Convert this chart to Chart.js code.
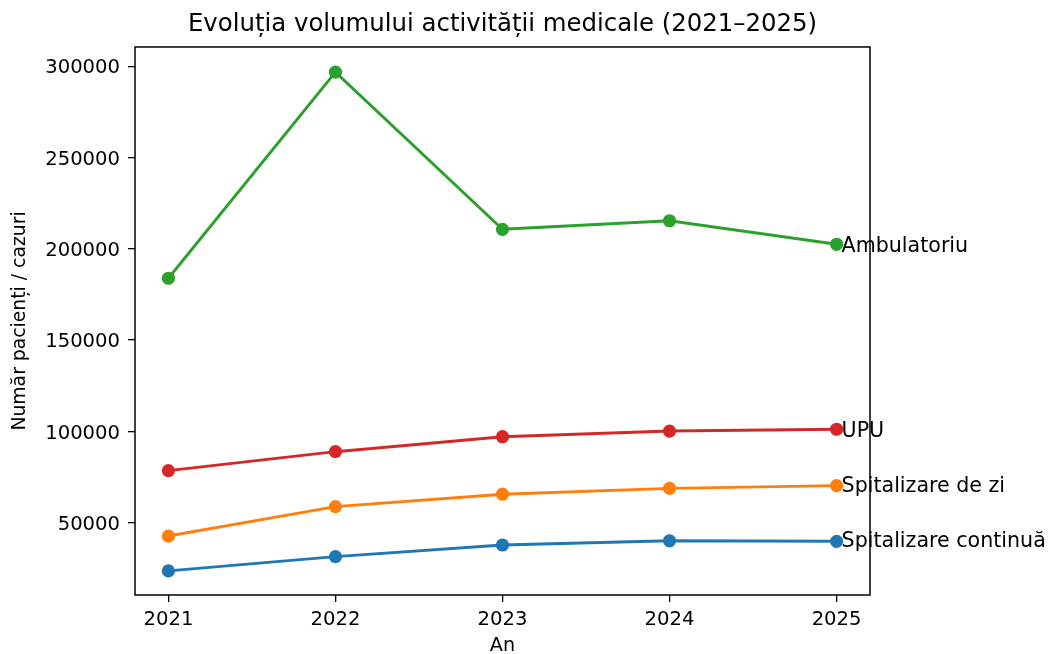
<!DOCTYPE html>
<html lang="ro">
<head>
<meta charset="utf-8">
<title>Evoluția volumului activității medicale</title>
<script src="https://cdn.jsdelivr.net/npm/chart.js@4/dist/chart.umd.min.js"></script>
<style>
  html, body { margin: 0; padding: 0; background: #fff; }
  #wrap { width: 1049px; height: 654px; }
</style>
</head>
<body>
<div id="wrap"><canvas id="grafic" width="1049" height="654"></canvas></div>
<script>
// date
const ani = [2021, 2022, 2023, 2024, 2025];
const spitalizareContinua = [23600, 31400, 37800, 40100, 39800];
const spitalizareZi = [42700, 58800, 65600, 68800, 70300];
const ambulatoriu = [183900, 296800, 210700, 215400, 202500];
const upu = [78500, 88900, 97100, 100200, 101200];
const ticksY = [50000, 100000, 150000, 200000, 250000, 300000];

// limite axe (ca in original)
const yMin = 10400, yMax = 310570;
const xMin = 2020.8, xMax = 2025.2;

const serii = [
  { nume: "Spitalizare continuă", date: spitalizareContinua, culoare: "#1f77b4" },
  { nume: "Spitalizare de zi", date: spitalizareZi, culoare: "#ff7f0e" },
  { nume: "Ambulatoriu", date: ambulatoriu, culoare: "#2ca02c" },
  { nume: "UPU", date: upu, culoare: "#d62728" },
];

const FONT = "'DejaVu Sans', sans-serif";

// cadru complet + etichete la capatul liniilor
const pluginCadru = {
  id: "cadru",
  afterDatasetsDraw(chart) {
    const { ctx, chartArea: a } = chart;
    ctx.save();
    ctx.strokeStyle = "#000";
    ctx.lineWidth = 1.5;
    ctx.strokeRect(a.left, a.top, a.right - a.left, a.bottom - a.top);
    ctx.restore();
  },
  afterDraw(chart) {
    const { ctx, scales } = chart;
    ctx.save();
    ctx.font = "20.6px " + FONT;
    ctx.fillStyle = "#000";
    ctx.textAlign = "left";
    ctx.textBaseline = "alphabetic";
    chart.data.datasets.forEach(ds => {
      const ultim = ds.data[ds.data.length - 1];
      const px = scales.x.getPixelForValue(ultim.x) + 5;
      const py = scales.y.getPixelForValue(ultim.y);
      const m = ctx.measureText(ds.label);
      const yb = py + (m.actualBoundingBoxAscent - m.actualBoundingBoxDescent) / 2;
      ctx.fillText(ds.label, px, yb);
    });
    ctx.restore();
  },
};

new Chart(document.getElementById("grafic"), {
  type: "line",
  data: {
    datasets: serii.map(s => ({
      label: s.nume,
      data: s.date.map((v, i) => ({ x: ani[i], y: v })),
      borderColor: s.culoare,
      backgroundColor: s.culoare,
      borderWidth: 2.9,
      pointRadius: 6.6,
      pointBorderWidth: 0,
      pointBackgroundColor: s.culoare,
      tension: 0,
      fill: false,
    })),
  },
  options: {
    responsive: false,
    animation: false,
    layout: { padding: { left: 0, right: 179, top: 0, bottom: 0 } },
    plugins: {
      legend: { display: false },
      tooltip: { enabled: false },
      title: {
        display: true,
        fullSize: false,
        text: "Evoluția volumului activității medicale (2021–2025)",
        color: "#000",
        font: { family: FONT, size: 24.4, weight: "normal", lineHeight: 1.2 },
        padding: { top: 10, bottom: 7.7 },
      },
    },
    scales: {
      x: {
        type: "linear",
        min: xMin,
        max: xMax,
        afterBuildTicks: sc => { sc.ticks = ani.map(v => ({ value: v })); },
        afterFit: sc => { sc.height = 59; },
        grid: { drawOnChartArea: false, drawTicks: true, tickLength: 7, color: "#000", lineWidth: 1.3 },
        border: { display: false },
        ticks: {
          color: "#000",
          padding: 6,
          maxRotation: 0,
          font: { family: FONT, size: 19.6 },
          callback: v => String(v),
        },
        title: {
          display: true,
          text: "An",
          color: "#000",
          font: { family: FONT, size: 19.2, lineHeight: 0.8 },
          padding: { top: 0, bottom: 0 },
        },
      },
      y: {
        type: "linear",
        min: yMin,
        max: yMax,
        afterBuildTicks: sc => { sc.ticks = ticksY.map(v => ({ value: v })); },
        afterFit: sc => { sc.width = 135; },
        grid: { drawOnChartArea: false, drawTicks: true, tickLength: 7, color: "#000", lineWidth: 1.3 },
        border: { display: false },
        ticks: {
          color: "#000",
          padding: 8,
          labelOffset: 2,
          font: { family: FONT, size: 19.6 },
          callback: v => String(v),
        },
        title: {
          display: true,
          text: "Număr pacienți / cazuri",
          color: "#000",
          font: { family: FONT, size: 18.8, lineHeight: 1.2 },
          padding: { top: 9, bottom: 0 },
        },
      },
    },
  },
  plugins: [pluginCadru],
});
</script>
</body>
</html>
